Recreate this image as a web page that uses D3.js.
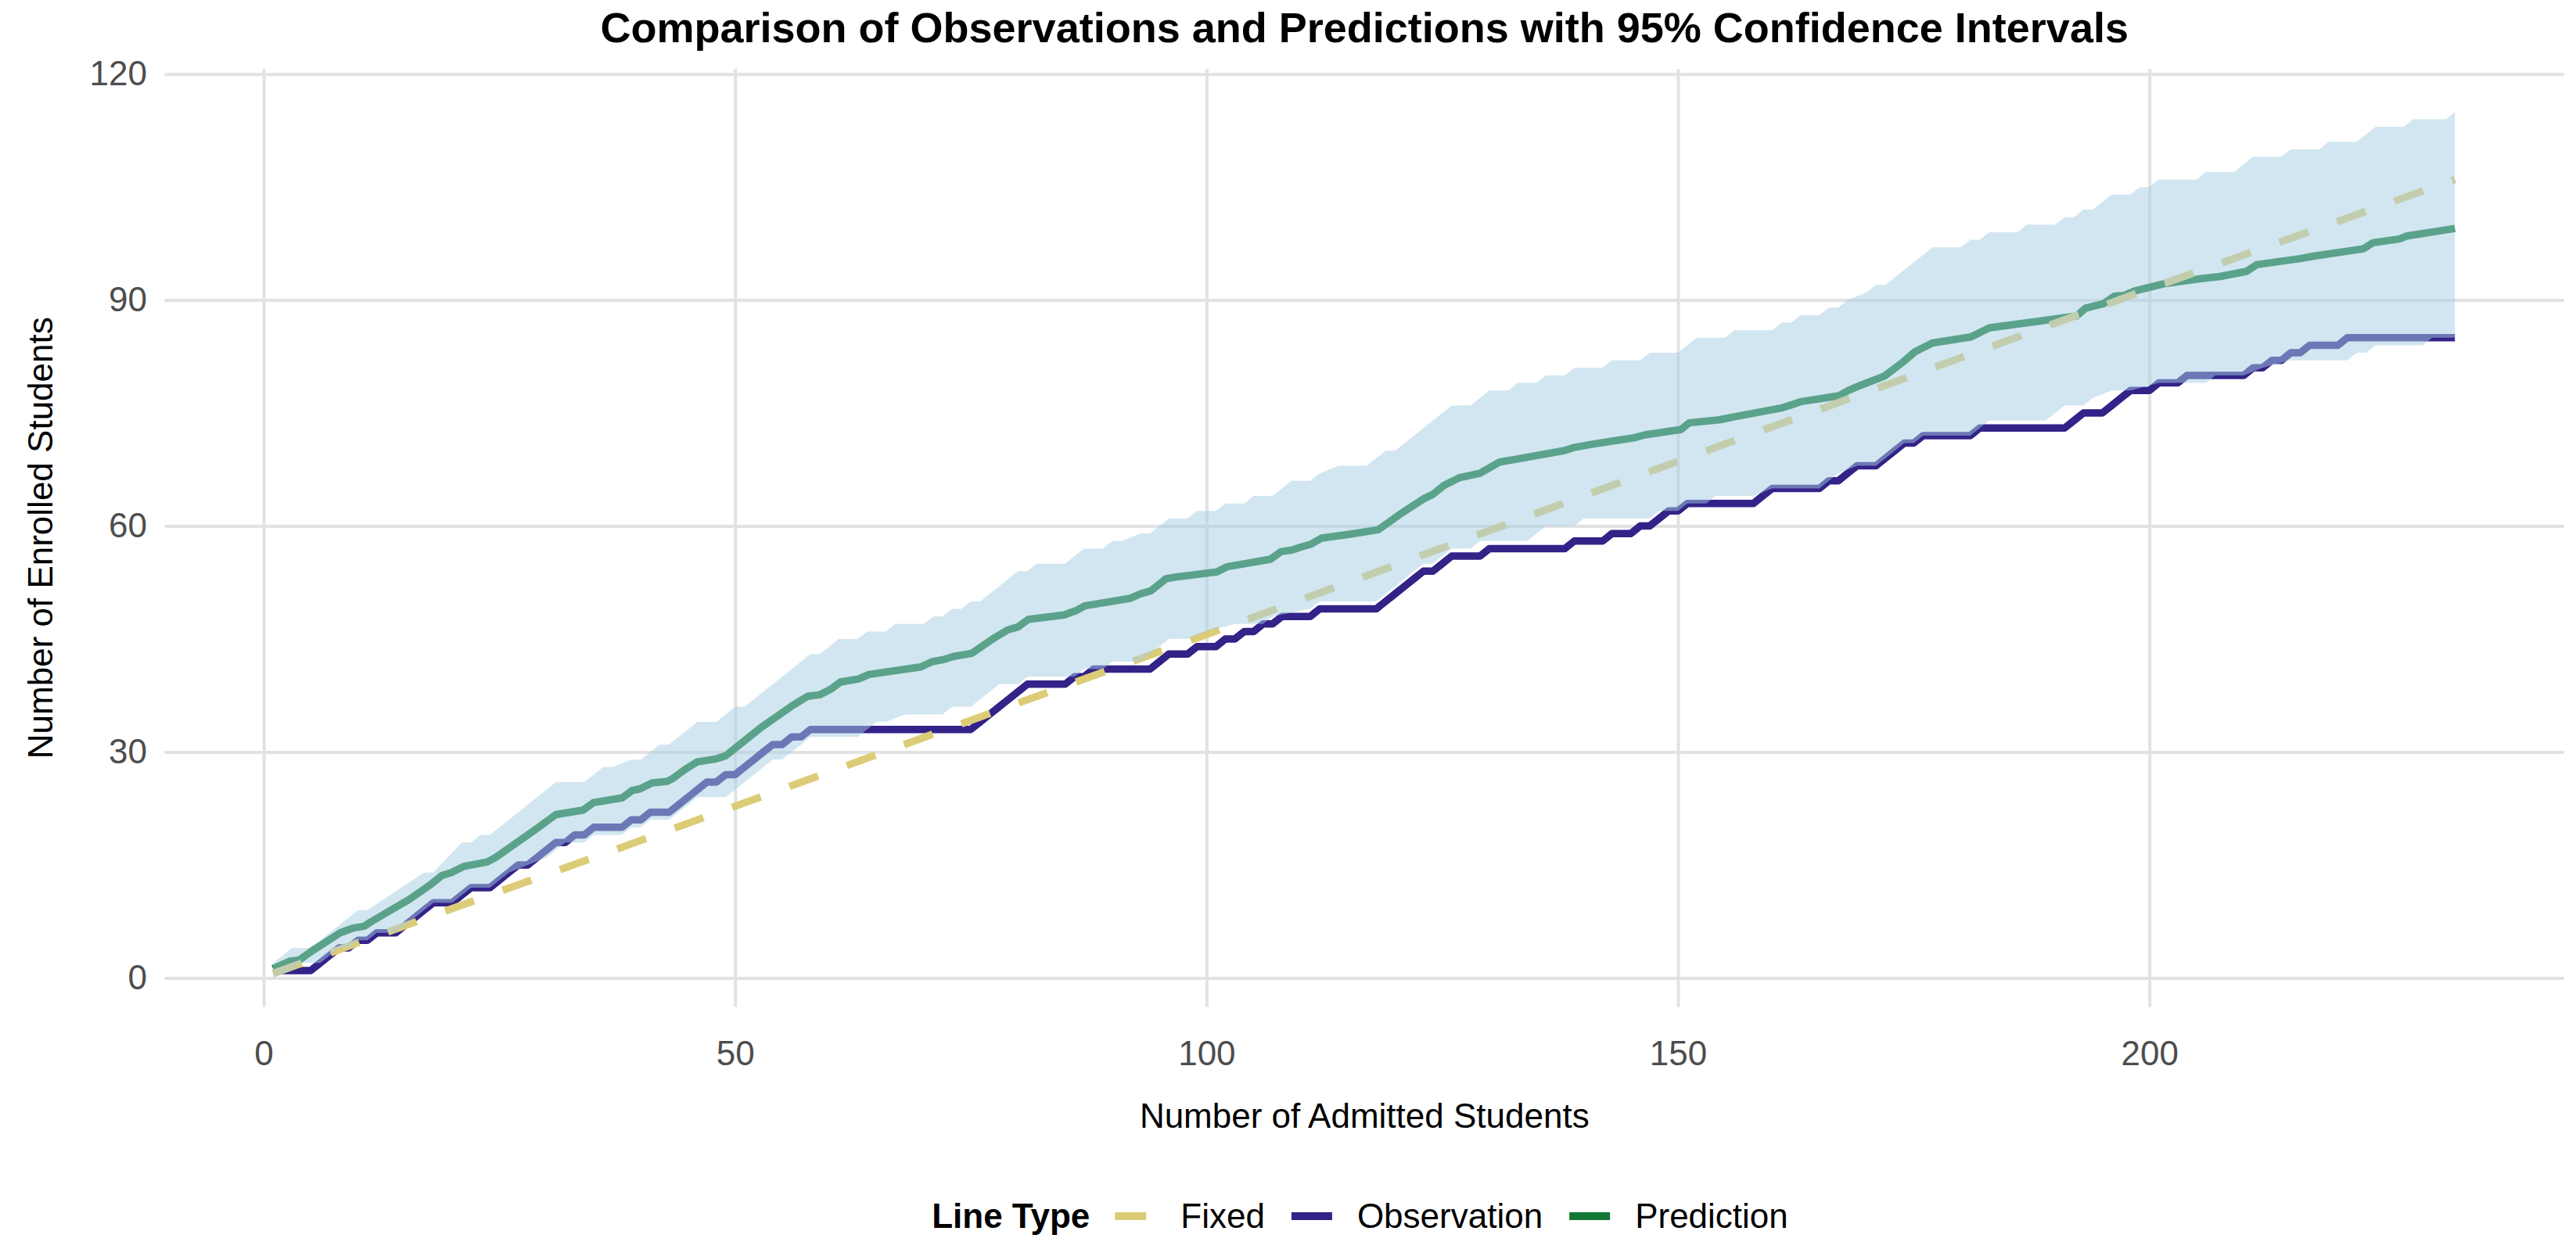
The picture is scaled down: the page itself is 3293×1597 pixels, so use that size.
<!DOCTYPE html>
<html>
<head>
<meta charset="utf-8">
<script src="https://cdn.jsdelivr.net/npm/d3@7"></script>
<style>
  html, body { margin: 0; padding: 0; background: #ffffff; }
  svg { display: block; }
</style>
</head>
<body>
<svg id="chart" width="3293" height="1597"></svg>
<script>
// ---------------- DATA ----------------
const chartTitle = "Comparison of Observations and Predictions with 95% Confidence Intervals";
const xTitle = "Number of Admitted Students";
const yTitle = "Number of Enrolled Students";
const legendTitle = "Line Type";
const seriesNames = ["Fixed", "Observation", "Prediction"];
const xTicks = [0, 50, 100, 150, 200];
const yTicks = [0, 30, 60, 90, 120];

// Observation (vertices of the cumulative step line)
const obsX = [1,5,6,7,8,9,10,11,12,14,15,16,17,18,20,21,22,24,25,26,27,28,29,30,31,32,33,34,35,38,39,40,41,43,44,45,46,47,48,49,50,51,52,53,54,55,56,57,58,75,76,77,78,79,80,81,85,86,87,88,94,95,96,98,99,101,102,103,104,105,106,107,108,111,112,118,119,120,121,122,123,124,125,126,129,130,138,139,142,143,145,146,147,148,149,150,151,158,159,160,165,166,167,168,169,171,172,173,174,175,176,181,182,191,192,193,195,196,197,198,200,201,203,204,210,211,212,213,214,215,216,217,220,221,232.4];
const obsY = [1,1,2,3,4,4,5,5,6,6,7,8,9,10,10,11,12,12,13,14,15,15,16,17,18,18,19,19,20,20,21,21,22,22,23,24,25,26,26,27,27,28,29,30,31,31,32,32,33,33,34,35,36,37,38,39,39,40,40,41,41,42,43,43,44,44,45,45,46,46,47,47,48,48,49,49,50,51,52,53,54,54,55,56,56,57,57,58,58,59,59,60,60,61,62,62,63,63,64,65,65,66,66,67,68,68,69,70,71,71,72,72,73,73,74,75,75,76,77,78,78,79,79,80,80,81,81,82,82,83,83,84,84,85,85];

// Prediction (vertices)
const predX = [1,2.7,3.8,4.9,8.1,9.4,10.7,11.3,13.2,15.4,17.7,18.9,19.9,21.2,23.7,24.6,28.8,31.0,33.9,35.0,38.0,39.1,39.9,41.2,42.8,43.4,44.7,46.0,48.0,49.0,50.0,52.8,54.4,56.0,57.7,59.0,60.1,61.2,63.1,64.2,69.7,70.9,72.2,73.2,75.1,77.3,78.9,80.0,81.1,84.9,86.2,87.1,91.9,93.0,94.1,95.7,96.6,101.1,102.2,106.8,107.9,109.0,110.0,111.1,112.2,115.1,118.2,120.8,123.0,124.0,125.2,126.8,129.0,131.1,132.5,137.9,138.9,141.1,143.7,145.3,146.5,150.3,151.2,154.4,156.0,161.1,163.0,167.1,168.1,169.4,171.9,173.8,175.1,177.0,181.1,183.0,185.9,187.8,192.3,193.2,195.1,196.3,197.3,198.4,201.7,205.8,207.4,210.3,211.4,216.0,217.3,222.7,223.7,226.5,227.3,232.4];
const predY = [1.25,2.2,2.4,3.4,6.0,6.6,6.9,7.4,8.8,10.4,12.4,13.6,14.0,14.8,15.4,16.0,19.7,21.7,22.3,23.3,23.9,24.9,25.1,25.9,26.1,26.5,27.7,28.7,29.1,29.5,30.5,33.3,34.7,36.1,37.4,37.6,38.3,39.3,39.7,40.3,41.3,42.0,42.3,42.7,43.1,45.0,46.2,46.6,47.6,48.2,48.8,49.4,50.4,51.0,51.4,53.0,53.2,53.9,54.6,55.6,56.6,56.8,57.2,57.6,58.4,58.9,59.5,61.8,63.6,64.2,65.4,66.4,67.0,68.5,68.8,70.0,70.4,70.9,71.4,71.7,72.1,72.8,73.7,74.1,74.5,75.7,76.5,77.3,78.0,78.7,79.9,81.7,83.1,84.3,85.1,86.3,86.8,87.1,87.9,88.9,89.5,90.5,90.6,91.2,92.2,92.9,93.1,93.8,94.7,95.5,95.8,96.8,97.6,98.1,98.5,99.5];

// Fixed yield line (read points)
const fixedX = [1, 50, 100, 150, 200, 232.4];
const fixedY = [0.6, 22.8, 45.6, 68.6, 91.5, 106.0];

// 95% CI upper bound (vertices)
const upperX = [1,3,5,10,11,17,18,21,22,23,24,31,34,36,37,39,40,42,43,46,48,50,51,58,59,61,63,64,66,67,70,71,72,73,74,75,76,80,81,82,85,87,89,90,91,93,94,96,98,99,101,102,104,105,107,109,111,112,114,117,119,120,126,128,130,132,133,135,136,138,139,142,143,146,147,150,152,155,156,160,161,162,163,165,166,167,168,170,171,172,177,180,181,182,183,186,187,190,191,192,193,194,196,198,199,200,201,205,206,209,211,214,215,218,219,222,224,227,228,231.5,232.4];
const upperY = [2,4,4,9,9,14,14,18,18,19,19,26,26,28,28,29,29,31,31,34,34,36,36,43,43,45,45,46,46,47,47,48,48,49,49,50,50,54,54,55,55,57,57,58,58,59,59,61,61,62,62,63,63,64,64,66,66,67,68,68,70,70,76,76,78,78,79,79,80,80,81,81,82,82,83,83,85,85,86,86,87,87,88,88,89,89,90,91,92,92,97,97,98,98,99,99,100,100,101,101,102,102,104,104,105,105,106,106,107,107,109,109,110,110,111,111,113,113,114,114,115];

// 95% CI lower bound (vertices)
const lowerX = [1,3,4,6,8,9,10,11,12,14,16,18,20,22,24,26,28,30,32,34,35,38,39,40,41,43,44,46,49,50,51,52,53,54,55,56,57,58,63,64,65,66,68,72,73,75,76,77,78,80,81,86,87,89,90,93,94,95,96,98,100,103,106,107,111,112,118,119,120,121,122,123,124,125,126,128,129,134,135,136,139,140,147,148,150,151,153,154,158,160,165,166,167,169,171,172,173,174,175,176,181,182,183,189,190,191,193,194,196,198,201,206,207,210,212,215,221,222,223,224,229,230,232.4];
const lowerY = [0,1,2,2,4,4,5,5,6,6,8,10,10,12,12,14,15,16,18,18,19,19,20,20,21,21,22,24,24,25,26,27,28,29,29,30,31,32,32,33,34,34,35,35,36,36,37,38,39,39,40,40,41,41,42,42,43,44,45,45,46,47,47,48,49,50,50,51,52,53,54,55,55,56,57,57,58,58,59,60,60,61,61,62,62,63,63,64,64,65,65,66,67,68,68,69,70,71,71,72,72,73,74,74,75,76,76,77,78,78,79,79,80,80,81,82,82,83,83,84,84,85,85];

const colors = { Fixed: "#DDCC77", Observation: "#332288", Prediction: "#117733" };
const ribbonColor = "#a6cee3";

// ---------------- LAYOUT ----------------
const W = 3293, H = 1597;
const panel = { left: 210.5, right: 3278, top: 87.9, bottom: 1287.6 };
const font = "'Liberation Sans', Arial, Helvetica, sans-serif";

const svg = d3.select("#chart");
svg.append("rect").attr("width", W).attr("height", H).attr("fill", "#ffffff");

const x = d3.scaleLinear().domain([-10.5, 244.0]).range([panel.left, panel.right]);
const y = d3.scaleLinear().domain([-3.85, 120.7]).range([panel.bottom, panel.top]);

const pw = panel.right - panel.left, ph = panel.bottom - panel.top;

// Y axis with gridlines
const yAxis = svg.append("g")
  .attr("transform", `translate(${panel.left},0)`)
  .call(d3.axisLeft(y).tickValues(yTicks).tickSize(-pw).tickPadding(22.5).tickFormat(d3.format("d")));
yAxis.select(".domain").remove();
yAxis.selectAll(".tick line").attr("stroke", "#e2e2e2").attr("stroke-width", 4);
yAxis.selectAll(".tick text").attr("fill", "#4d4d4d").style("font-family", font).style("font-size", "44px");

// X axis with gridlines
const xAxis = svg.append("g")
  .attr("transform", `translate(0,${panel.bottom})`)
  .call(d3.axisBottom(x).tickValues(xTicks).tickSize(-ph).tickPadding(43).tickFormat(d3.format("d")));
xAxis.select(".domain").remove();
xAxis.selectAll(".tick line").attr("stroke", "#e2e2e2").attr("stroke-width", 4);
xAxis.selectAll(".tick text").attr("fill", "#4d4d4d").style("font-family", font).style("font-size", "44px");

// Lines
const line = d3.line().x(d => x(d[0])).y(d => y(d[1]));
const zip = (xs, ys) => xs.map((v, i) => [v, ys[i]]);

const plot = svg.append("g");
plot.append("path").attr("d", line(zip(obsX, obsY)))
  .attr("fill", "none").attr("stroke", colors.Observation).attr("stroke-width", 9.5)
  .attr("stroke-linejoin", "round").attr("stroke-linecap", "butt");
plot.append("path").attr("d", line(zip(predX, predY)))
  .attr("fill", "none").attr("stroke", colors.Prediction).attr("stroke-width", 9.5)
  .attr("stroke-linejoin", "round").attr("stroke-linecap", "butt");
plot.append("path").attr("d", line(zip(fixedX, fixedY)))
  .attr("fill", "none").attr("stroke", colors.Fixed).attr("stroke-width", 9.5)
  .attr("stroke-dasharray", "39 39")
  .attr("stroke-linejoin", "round").attr("stroke-linecap", "butt");

// Ribbon (drawn on top, semi-transparent)
const ribbonPts = zip(upperX, upperY).concat(zip(lowerX, lowerY).reverse());
plot.append("path").attr("d", line(ribbonPts) + "Z")
  .attr("fill", ribbonColor).attr("fill-opacity", 0.5).attr("stroke", "none");

// Title
svg.append("text").text(chartTitle)
  .attr("x", (panel.left + panel.right) / 2).attr("y", 54)
  .attr("text-anchor", "middle")
  .style("font-family", font).style("font-size", "54px").style("font-weight", "bold").attr("fill", "#000");

// Axis titles
svg.append("text").text(xTitle)
  .attr("x", (panel.left + panel.right) / 2).attr("y", 1441.5)
  .attr("text-anchor", "middle")
  .style("font-family", font).style("font-size", "44px").attr("fill", "#000");
svg.append("text").text(yTitle)
  .attr("transform", `translate(66.5,${(panel.top + panel.bottom) / 2}) rotate(-90)`)
  .attr("text-anchor", "middle")
  .style("font-family", font).style("font-size", "44px").attr("fill", "#000");

// Legend
const lg = svg.append("g");
const legY = 1570, keyY = 1555;
let lx = 0;
const lt = lg.append("text").text(legendTitle).attr("x", lx).attr("y", legY)
  .style("font-family", font).style("font-size", "44px").style("font-weight", "bold").attr("fill", "#000");
lx += lt.node().getComputedTextLength() + 32;
seriesNames.forEach((name, i) => {
  const key = lg.append("line").attr("x1", lx).attr("x2", lx + 52).attr("y1", keyY).attr("y2", keyY)
    .attr("stroke", colors[name]).attr("stroke-width", 10);
  if (name === "Fixed") key.attr("stroke-dasharray", "40 40");
  lx += 52 + 32;
  const t = lg.append("text").text(name).attr("x", lx).attr("y", legY)
    .style("font-family", font).style("font-size", "44px").attr("fill", "#000");
  lx += t.node().getComputedTextLength();
  if (i < seriesNames.length - 1) lx += 34;
});
const legCenter = (1179 + 2298) / 2;
lg.attr("transform", `translate(${legCenter - lx / 2},0)`);
</script>
</body>
</html>
